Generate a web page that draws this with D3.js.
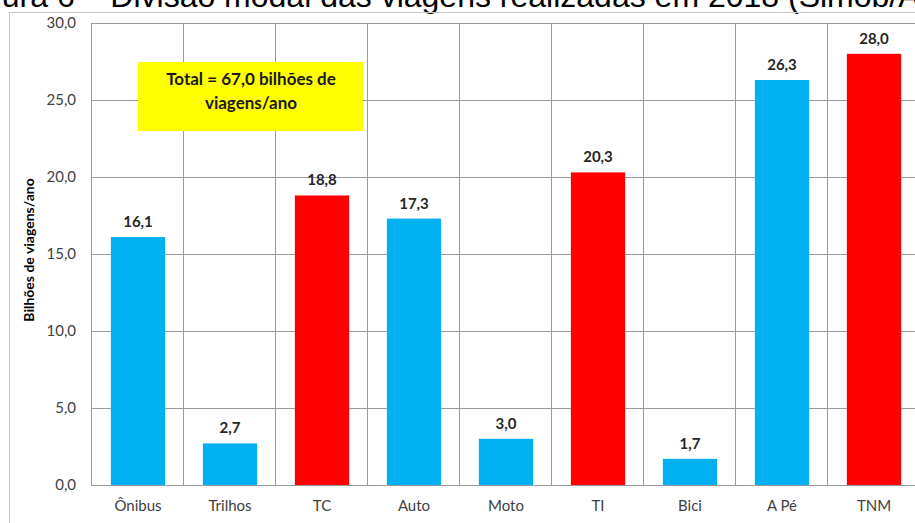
<!DOCTYPE html>
<html>
<head>
<meta charset="utf-8">
<script src="https://cdn.jsdelivr.net/npm/d3@7"></script>
<style>
  body { margin: 0; background: #fff; overflow: hidden; }
  svg { display: block; }
</style>
</head>
<body>
<script>
const categories = ["Ônibus", "Trilhos", "TC", "Auto", "Moto", "TI", "Bici", "A Pé", "TNM"];
const values = [16.1, 2.7, 18.8, 17.3, 3.0, 20.3, 1.7, 26.3, 28.0];
const groups = ["b", "b", "r", "b", "b", "r", "b", "b", "r"];
const yTicks = [0, 5, 10, 15, 20, 25, 30];
const titleHead = "Figura 6 – Divisão modal das viagens realizadas em 2018 ";
const titleTail = "(Simob/ANTP)";
const noteLines = ["Total = 67,0 bilhões de", "viagens/ano"];

const W = 915, H = 523;
const margin = { top: 23, right: -4, bottom: 38, left: 91 };
const width = W - margin.left - margin.right,
    height = H - margin.top - margin.bottom;

const fmt = v => d3.format(".1f")(v).replace(".", ",");
const color = d3.scaleOrdinal().domain(["b", "r"]).range(["#00b0f0", "#ff0000"]);
const font = "Lato, 'Open Sans', sans-serif";

const svg = d3.select("body")
    .append("svg")
    .attr("width", W)
    .attr("height", H);

// title, cut off at the top of the picture
const title = svg.append("text")
    .attr("y", 7)
    .style("font-family", "'Liberation Sans', Arial, sans-serif")
    .style("font-size", "32px")
    .style("fill", "#000")
    .text(titleHead + titleTail);
// line the opening bracket up where it sits in the source picture
const headLen = title.node().getSubStringLength(0, titleHead.length);
title.attr("x", 788 - headLen);

// outer chart frame
svg.append("rect")
    .attr("x", 9.5)
    .attr("y", 12.5)
    .attr("width", 940)
    .attr("height", 540)
    .attr("fill", "none")
    .attr("stroke", "#c6c6c6");

const g = svg.append("g")
    .attr("transform", `translate(${margin.left},${margin.top})`);

const x = d3.scaleBand()
    .domain(categories)
    .range([0, width])
    .padding(0);

const y = d3.scaleLinear()
    .domain([0, 30])
    .range([height, 0]);

// horizontal gridlines
g.append("g")
    .selectAll("line")
    .data(yTicks)
    .enter()
    .append("line")
    .attr("x1", 0)
    .attr("x2", width)
    .attr("y1", d => Math.round(y(d)) + 0.5)
    .attr("y2", d => Math.round(y(d)) + 0.5)
    .attr("stroke", "#9a9a9a");

// vertical category separators
g.append("g")
    .selectAll("line")
    .data(categories)
    .enter()
    .append("line")
    .attr("x1", d => Math.round(x(d)) + 0.5)
    .attr("x2", d => Math.round(x(d)) + 0.5)
    .attr("y1", 0)
    .attr("y2", height)
    .attr("stroke", "#9a9a9a");

// y tick labels
const yAxis = g.append("g")
    .call(d3.axisLeft(y).tickValues(yTicks).tickFormat(fmt).tickSize(0).tickPadding(15));
yAxis.select(".domain").remove();
yAxis.selectAll("text")
    .style("font-family", font)
    .style("font-size", "15px")
    .style("fill", "#404040");

// x labels
const xAxis = g.append("g")
    .attr("transform", `translate(0,${height})`)
    .call(d3.axisBottom(x).tickSize(0).tickPadding(15));
xAxis.select(".domain").remove();
xAxis.selectAll("text")
    .attr("dx", 1)
    .style("font-family", font)
    .style("font-size", "15px")
    .style("fill", "#404040");

const barW = x.bandwidth() * 0.59;

g.selectAll("rect.bar")
    .data(values)
    .enter()
    .append("rect")
    .attr("class", "bar")
    .attr("x", (d, i) => x(categories[i]) + (x.bandwidth() - barW) / 2 + 1)
    .attr("y", d => y(d))
    .attr("width", barW)
    .attr("height", d => height - y(d))
    .attr("fill", (d, i) => color(groups[i]));

g.selectAll("text.val")
    .data(values)
    .enter()
    .append("text")
    .attr("class", "val")
    .attr("x", (d, i) => x(categories[i]) + x.bandwidth() / 2 + 1)
    .attr("y", d => y(d) - 10)
    .attr("text-anchor", "middle")
    .style("font-family", font)
    .style("font-size", "15px")
    .style("font-weight", "bold")
    .style("fill", "#262626")
    .text(d => fmt(d));

// y axis title
svg.append("text")
    .attr("transform", "rotate(-90)")
    .attr("x", -250)
    .attr("y", 34)
    .attr("text-anchor", "middle")
    .style("font-family", font)
    .style("font-size", "14px")
    .style("font-weight", "bold")
    .style("fill", "#000")
    .text("Bilhões de viagens/ano");

// yellow note box
const note = svg.append("g");
note.append("rect")
    .attr("x", 138)
    .attr("y", 62)
    .attr("width", 225)
    .attr("height", 69)
    .attr("fill", "#ffff00");
note.selectAll("text")
    .data(noteLines)
    .enter()
    .append("text")
    .attr("x", 251)
    .attr("y", (d, i) => 85 + i * 24)
    .attr("text-anchor", "middle")
    .style("font-family", font)
    .style("font-size", "17px")
    .style("font-weight", "bold")
    .style("fill", "#1a1a1a")
    .text(d => d);
</script>
</body>
</html>
